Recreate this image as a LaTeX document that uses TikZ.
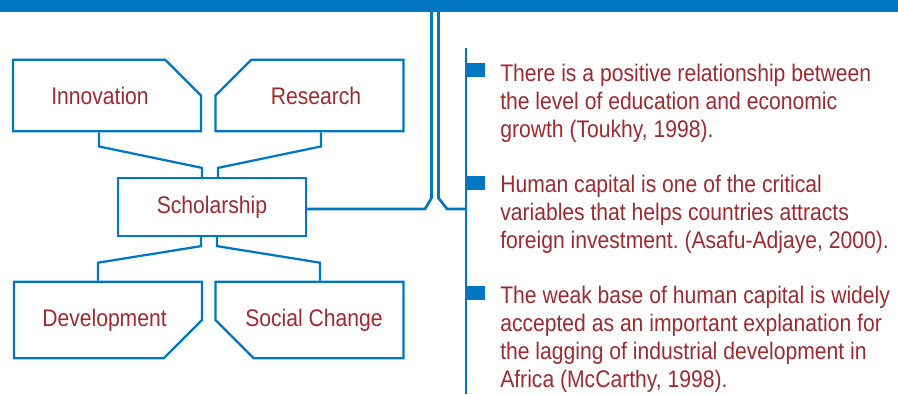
\documentclass[tikz,border=0pt]{standalone}
\usepackage{fontspec}
\setmainfont[FakeStretch=0.88]{Liberation Sans}
\usetikzlibrary{shapes.misc}
\definecolor{barblue}{HTML}{0077C0}
\definecolor{txtred}{HTML}{9E2A2F}
\frenchspacing
\tikzset{
  box/.style={chamfered rectangle, draw=barblue, line width=1.7pt,
    minimum width=141pt, minimum height=42.75pt,
    chamfered rectangle xsep=20.25pt, chamfered rectangle ysep=20.25pt,
    inner sep=0pt, text=txtred, font=\fontsize{18pt}{21pt}\selectfont},
  mainbox/.style={rectangle, draw=barblue, line width=1.7pt,
    minimum width=141pt, minimum height=43.5pt,
    inner sep=0pt, text=txtred, font=\fontsize{18pt}{21pt}\selectfont},
  link/.style={draw=barblue, line width=1.7pt},
  rail/.style={draw=barblue, line width=2pt},
  bullet/.style={rectangle, fill=barblue, minimum width=15pt, minimum height=10.5pt, inner sep=0pt},
  note/.style={anchor=north west, align=left, inner sep=0pt, text=txtred,
    font=\fontsize{18pt}{21pt}\selectfont}
}
\begin{document}
\begin{tikzpicture}[x=0.75pt,y=-0.75pt]
\useasboundingbox (0,0) rectangle (898,394);
\fill[barblue] (0,0) rectangle (898,12);
% boxes
\node[box, chamfered rectangle corners=north east] (innov) at (107,95.5) {Innovation\hspace*{10.5pt}};
\node[box, chamfered rectangle corners=north west] (research) at (309.5,95.5) {\hspace*{9.75pt}Research};
\node[mainbox] (schol) at (212,207) {Scholarship};
\node[box, chamfered rectangle corners=south east] (devel) at (108,320) {Development\hspace*{5.25pt}};
\node[box, chamfered rectangle corners=south west] (social) at (309.5,320) {\hspace*{6.75pt}Social Change};
% links
\draw[link] ([xshift=-6pt]innov.south) -- ++(0,14) -- ([xshift=-7.5pt,yshift=6.75pt]schol.north) -- ([xshift=-7.5pt]schol.north);
\draw[link] ([xshift=8.6pt]research.south) -- ++(0,14) -- ([xshift=4.5pt,yshift=6.75pt]schol.north) -- ([xshift=4.5pt]schol.north);
\draw[link] ([xshift=-8.25pt]schol.south) -- ++(0,9) -- ([xshift=-7.5pt,yshift=13.5pt]devel.north) -- ([xshift=-7.5pt]devel.north);
\draw[link] ([xshift=3.75pt]schol.south) -- ++(0,9) -- ([xshift=7.9pt,yshift=13.5pt]social.north) -- ([xshift=7.9pt]social.north);
% rails to the bar
\coordinate (railL) at (431.5,12);
\coordinate (railR) at (438.5,12);
\coordinate (spinetop) at (466,48);
\coordinate (spinebot) at (466,394);
\draw[rail] ([yshift=-1.5pt]schol.east) -- (425,209) -- (431.5,198) -- (railL);
\draw[rail] (railR) -- (438.5,198) -- (447,209) -- (466,209);
\draw[link] (spinetop) -- (spinebot);
% notes
\node[bullet] (b1) at (475,70) {};
\node[bullet] (b2) at (475,183) {};
\node[bullet] (b3) at (475,293) {};
\node[note] (n1) at (500,64) {There is a positive relationship between\\the level of education and economic\\growth (Toukhy, 1998).};
\node[note] (n2) at (500,175) {Human capital is one of the critical\\variables that helps countries attracts\\foreign investment. (Asafu-Adjaye, 2000).};
\node[note] (n3) at (500,286) {The weak base of human capital is widely\\accepted as an important explanation for\\the lagging of industrial development in\\Africa (McCarthy, 1998).};
\end{tikzpicture}
\end{document}
